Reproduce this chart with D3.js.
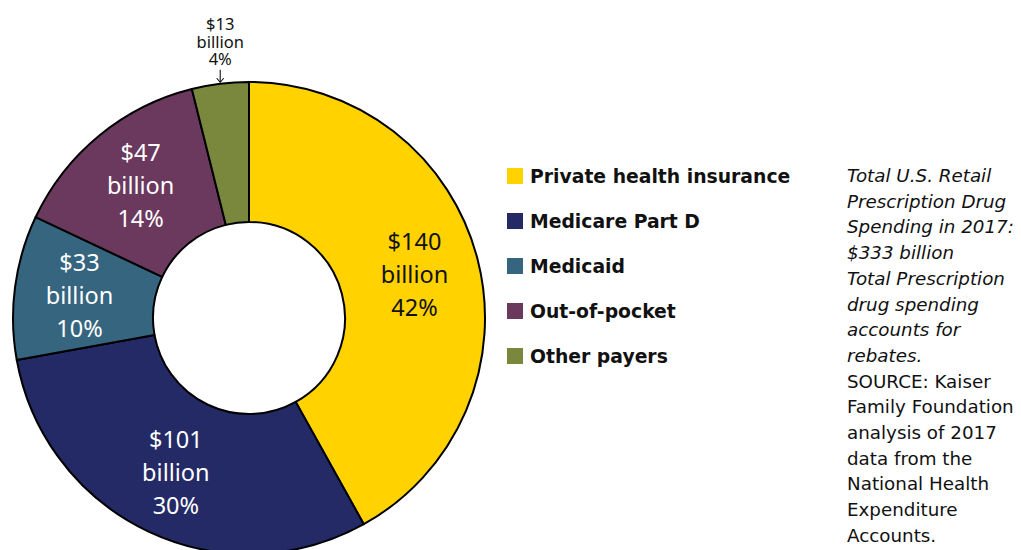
<!DOCTYPE html>
<html>
<head>
<meta charset="utf-8">
<script src="https://cdn.jsdelivr.net/npm/d3@7"></script>
<style>
  html, body { margin: 0; padding: 0; background: #fff; }
  svg { display: block; }
</style>
</head>
<body>
<svg id="chart" width="1021" height="550"></svg>
<script>
// Retail prescription drug spending by payer, 2017 (billions of dollars)
const payers = ["Private health insurance", "Medicare Part D", "Medicaid", "Out-of-pocket", "Other payers"];
const spending = [140, 101, 33, 47, 13];
const shares = ["42%", "30%", "10%", "14%", "4%"];
const colors = ["#FFD200", "#232A66", "#35657F", "#6B395E", "#7A883D"];
const labelColors = ["#111", "#fff", "#fff", "#fff", "#111"];

const noteItalic = [
  "Total U.S. Retail",
  "Prescription Drug",
  "Spending in 2017:",
  "$333 billion",
  "Total Prescription",
  "drug spending",
  "accounts for",
  "rebates."
];
const noteSource = [
  "SOURCE: Kaiser",
  "Family Foundation",
  "analysis of 2017",
  "data from the",
  "National Health",
  "Expenditure",
  "Accounts."
];

const svg = d3.select("#chart");
const cx = 249, cy = 318, outerR = 236, innerR = 96;

const pie = d3.pie().sort(null).value(d => d.value);
const rows = payers.map((p, i) => ({ name: p, value: spending[i], share: shares[i], color: colors[i], text: labelColors[i] }));
const arcs = pie(rows);

const arc = d3.arc().innerRadius(innerR).outerRadius(outerR);
const labelArc = d3.arc().innerRadius(innerR + 10).outerRadius(outerR);

const g = svg.append("g").attr("transform", `translate(${cx},${cy})`);

g.selectAll("path.slice")
  .data(arcs)
  .join("path")
  .attr("class", "slice")
  .attr("d", arc)
  .attr("fill", d => d.data.color)
  .attr("stroke", "#000")
  .attr("stroke-width", 2)
  .attr("stroke-linejoin", "round");

// In-slice labels for the larger slices
const inside = arcs.filter(d => d.data.value >= 30);
const lbl = g.selectAll("text.slice-label")
  .data(inside)
  .join("text")
  .attr("class", "slice-label")
  .attr("transform", d => {
    const [x, y] = labelArc.centroid(d);
    return `translate(${x},${y})`;
  })
  .attr("text-anchor", "middle")
  .attr("font-family", "'Noto Sans', 'Open Sans', sans-serif")
  .attr("font-size", 23.5)
  .attr("fill", d => d.data.text);
lbl.each(function(d) {
  const t = d3.select(this);
  const lines = ["$" + d.data.value, "billion", d.data.share];
  lines.forEach((s, k) => {
    t.append("tspan").attr("x", 0).attr("y", (k - 1) * 33 + 8).text(s);
  });
});

// Small slice: label placed above the ring, with a short arrow down to it
arcs.filter(d => d.data.value < 30).forEach(d => {
  const mid = (d.startAngle + d.endAngle) / 2;
  const x = Math.sin(mid) * outerR;
  const top = -Math.cos(mid) * outerR;
  const lines = ["$" + d.data.value, "billion", d.data.share];
  lines.forEach((s, k) => {
    g.append("text")
      .attr("x", x)
      .attr("y", top - 53.5 + k * 17.5)
      .attr("text-anchor", "middle")
      .attr("font-family", "'Noto Sans', 'Open Sans', sans-serif")
      .attr("font-size", 16.5)
      .attr("fill", "#111")
      .text(s);
  });
  const arrow = g.append("g").attr("stroke", "#111").attr("stroke-width", 1.1).attr("fill", "none");
  arrow.append("line")
    .attr("x1", x).attr("x2", x)
    .attr("y1", top - 14).attr("y2", top - 1.5);
  arrow.append("path")
    .attr("d", `M${x - 3.5},${top - 5.5}L${x},${top - 1.5}L${x + 3.5},${top - 5.5}`);
});

// Legend
const legend = svg.append("g").attr("transform", "translate(507,176)");
const item = legend.selectAll("g")
  .data(rows)
  .join("g")
  .attr("transform", (d, i) => `translate(0,${i * 45})`);
item.append("rect")
  .attr("x", 0).attr("y", -8)
  .attr("width", 16).attr("height", 16)
  .attr("fill", d => d.color);
item.append("text")
  .attr("x", 23).attr("y", 7)
  .attr("font-family", "'DejaVu Sans', Verdana, sans-serif")
  .attr("font-weight", "bold")
  .attr("font-size", 18.8)
  .attr("fill", "#111")
  .text(d => d.name);

// Side note
const note = svg.append("text")
  .attr("font-family", "'DejaVu Sans', sans-serif")
  .attr("font-size", 18.3)
  .attr("fill", "#111");
noteItalic.concat(noteSource).forEach((s, k) => {
  note.append("tspan")
    .attr("x", 847)
    .attr("y", 182 + k * 25.7)
    .attr("font-style", k < noteItalic.length ? "italic" : "normal")
    .text(s);
});
</script>
</body>
</html>
